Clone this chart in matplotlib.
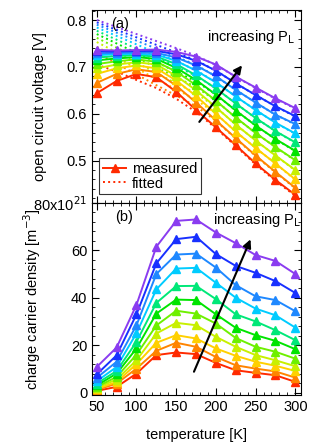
import numpy as np
import matplotlib.pyplot as plt
from matplotlib.ticker import MultipleLocator, FixedLocator, FixedFormatter

plt.rcParams['font.family'] = ['Liberation Sans', 'DejaVu Sans']

temps = [50, 75, 100, 125, 150, 175, 200, 225, 250, 275, 300]

# colours from lowest to highest light intensity
colors = ['#ff2a00', '#ff8400', '#ffd000', '#c8f000', '#6ef000', '#00e400',
          '#00e878', '#00ccff', '#1e88ff', '#1830ff', '#8a3cf0']

# open circuit voltage, measured [V]
voc_meas = [
    [0.644, 0.670, 0.685, 0.678, 0.647, 0.608, 0.571, 0.533, 0.494, 0.459, 0.427],
    [0.666, 0.685, 0.695, 0.689, 0.660, 0.624, 0.586, 0.548, 0.511, 0.476, 0.442],
    [0.685, 0.697, 0.703, 0.697, 0.671, 0.638, 0.600, 0.562, 0.527, 0.494, 0.460],
    [0.697, 0.705, 0.710, 0.705, 0.681, 0.650, 0.614, 0.577, 0.543, 0.511, 0.480],
    [0.706, 0.712, 0.716, 0.711, 0.690, 0.661, 0.628, 0.592, 0.559, 0.529, 0.501],
    [0.714, 0.718, 0.721, 0.717, 0.698, 0.672, 0.641, 0.607, 0.575, 0.546, 0.521],
    [0.720, 0.723, 0.725, 0.722, 0.706, 0.682, 0.654, 0.622, 0.591, 0.563, 0.539],
    [0.725, 0.727, 0.728, 0.726, 0.713, 0.692, 0.667, 0.637, 0.608, 0.581, 0.558],
    [0.729, 0.730, 0.731, 0.730, 0.720, 0.703, 0.680, 0.651, 0.624, 0.598, 0.578],
    [0.733, 0.733, 0.734, 0.734, 0.727, 0.713, 0.692, 0.665, 0.640, 0.616, 0.595],
    [0.736, 0.735, 0.736, 0.737, 0.732, 0.722, 0.705, 0.679, 0.656, 0.633, 0.612],
]

# open circuit voltage, fitted [V]
voc_fit = [
    [0.705, 0.690, 0.672, 0.655, 0.632, 0.604, 0.569, 0.531, 0.492, 0.457, 0.425],
    [0.730, 0.707, 0.684, 0.661, 0.639, 0.616, 0.585, 0.547, 0.510, 0.475, 0.441],
    [0.743, 0.720, 0.697, 0.674, 0.652, 0.630, 0.600, 0.562, 0.527, 0.494, 0.459],
    [0.753, 0.731, 0.709, 0.687, 0.665, 0.644, 0.614, 0.577, 0.543, 0.511, 0.479],
    [0.762, 0.741, 0.720, 0.699, 0.678, 0.657, 0.628, 0.592, 0.559, 0.529, 0.500],
    [0.770, 0.750, 0.730, 0.710, 0.690, 0.669, 0.641, 0.607, 0.575, 0.546, 0.520],
    [0.777, 0.758, 0.739, 0.720, 0.701, 0.681, 0.654, 0.622, 0.591, 0.563, 0.538],
    [0.784, 0.766, 0.748, 0.730, 0.712, 0.693, 0.667, 0.637, 0.608, 0.581, 0.557],
    [0.790, 0.773, 0.756, 0.739, 0.722, 0.704, 0.680, 0.651, 0.624, 0.598, 0.577],
    [0.795, 0.779, 0.763, 0.747, 0.731, 0.714, 0.692, 0.665, 0.640, 0.616, 0.594],
    [0.800, 0.785, 0.770, 0.755, 0.740, 0.724, 0.704, 0.679, 0.655, 0.632, 0.611],
]

# charge carrier density [1e21 m^-3]
density = [
    [0.7, 2.4, 8.0, 15.8, 16.9, 16.2, 12.5, 9.4, 8.3, 7.3, 4.5],
    [1.1, 3.8, 10.1, 17.6, 21.0, 19.3, 15.0, 11.5, 10.1, 8.9, 6.3],
    [1.5, 4.5, 12.0, 21.0, 24.2, 22.8, 18.6, 15.5, 13.0, 11.3, 9.1],
    [2.0, 5.5, 13.6, 24.9, 29.4, 28.4, 23.5, 19.3, 15.8, 13.6, 11.1],
    [2.4, 6.6, 16.0, 28.3, 34.5, 33.3, 29.1, 23.0, 19.3, 17.2, 14.3],
    [3.0, 8.0, 18.6, 33.3, 39.2, 39.0, 33.0, 27.3, 24.2, 21.8, 18.3],
    [3.8, 9.1, 21.4, 37.8, 44.9, 45.0, 39.4, 33.0, 30.0, 26.3, 22.1],
    [4.8, 10.8, 25.0, 43.5, 52.3, 52.6, 46.3, 40.0, 35.4, 32.6, 27.4],
    [6.2, 13.0, 28.4, 50.0, 58.2, 58.6, 52.7, 45.3, 40.6, 39.0, 34.3],
    [7.7, 15.7, 33.0, 54.5, 64.7, 65.7, 58.4, 53.4, 50.5, 47.0, 42.0],
    [10.8, 19.0, 37.0, 61.5, 72.4, 73.0, 67.5, 63.0, 58.0, 55.5, 50.0],
]

fig = plt.figure(figsize=(3.31, 4.42), dpi=100)
ax1 = fig.add_axes([0.278, 0.541, 0.631, 0.436])
ax2 = fig.add_axes([0.278, 0.106, 0.631, 0.435])

for i in range(len(colors)):
    ax1.plot(temps, voc_fit[i], ls=':', lw=1.4, color=colors[i])
for i in range(len(colors)):
    ax1.plot(temps, voc_meas[i], '-^', lw=1.4, ms=6, color=colors[i])
    ax2.plot(temps, density[i], '-^', lw=1.4, ms=6, color=colors[i])

for ax in (ax1, ax2):
    ax.set_xlim(44, 307)
    ax.xaxis.set_major_locator(MultipleLocator(50))
    ax.xaxis.set_minor_locator(MultipleLocator(10))
    ax.tick_params(which='both', direction='in', top=True, right=True, labelsize=10.5)
    ax.tick_params(which='major', length=5)
    ax.tick_params(which='minor', length=2.5)
    for s in ax.spines.values():
        s.set_linewidth(0.8)

ax1.set_ylim(0.41, 0.821)
ax1.yaxis.set_major_locator(MultipleLocator(0.1))
ax1.yaxis.set_minor_locator(MultipleLocator(0.02))
ax1.tick_params(labelbottom=False)
ax1.set_ylabel('open circuit voltage [V]', fontsize=10.5)
ax1.yaxis.set_label_coords(-0.215, 0.5)

ax2.set_ylim(-1.1, 80)
ax2.yaxis.set_major_locator(FixedLocator([0, 20, 40, 60, 80]))
ax2.yaxis.set_major_formatter(FixedFormatter(['0', '20', '40', '60', '80x10$^{21}$']))
ax2.yaxis.set_minor_locator(MultipleLocator(4))
ax2.set_ylabel('charge carrier density [m$^{-3}$]', fontsize=10.5)
ax2.yaxis.set_label_coords(-0.235, 0.5)
ax2.set_xlabel('temperature [K]', fontsize=10.5, labelpad=10)

ax1.text(0.09, 0.965, '(a)', transform=ax1.transAxes, fontsize=10.5, va='top')
ax2.text(0.11, 0.965, '(b)', transform=ax2.transAxes, fontsize=10.5, va='top')
ax1.text(0.55, 0.84, 'increasing P$_\\mathrm{L}$', transform=ax1.transAxes, fontsize=10.5)
ax2.text(0.58, 0.89, 'increasing P$_\\mathrm{L}$', transform=ax2.transAxes, fontsize=10.5)

ax1.annotate('', xy=(235, 0.708), xytext=(177, 0.578),
             arrowprops=dict(arrowstyle='-|>', color='black', lw=1.5, mutation_scale=12))
ax2.annotate('', xy=(245, 65.7), xytext=(171, 7.7),
             arrowprops=dict(arrowstyle='-|>', color='black', lw=1.5, mutation_scale=12))

h1, = ax1.plot([], [], '-^', lw=1.4, ms=6, color=colors[0])
h2, = ax1.plot([], [], ':', lw=1.4, color=colors[0])
leg = ax1.legend([h1, h2], ['measured', 'fitted'], loc='lower left',
                 bbox_to_anchor=(0.035, 0.045), fontsize=10.5, frameon=True,
                 fancybox=False, handlelength=1.6, borderpad=0.25, labelspacing=0.05,
                 handletextpad=0.4, borderaxespad=0)
leg.get_frame().set_edgecolor('black')
leg.get_frame().set_linewidth(0.8)

fig.savefig('out.png', dpi=100)
